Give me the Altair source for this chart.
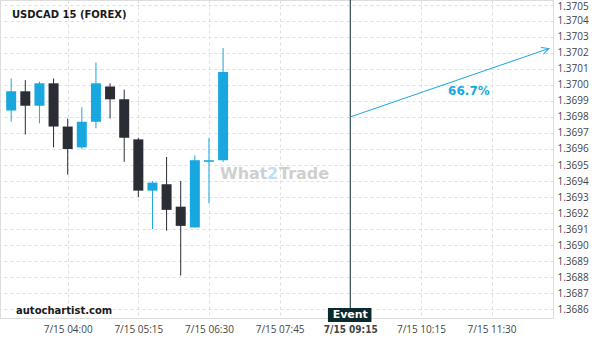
import altair as alt
import pandas as pd

# ---- data ----
idx = list(range(16))
opens  = [1.36984, 1.36996, 1.36987, 1.37001, 1.36974, 1.36961, 1.36977, 1.36999,
          1.36991, 1.36966, 1.36934, 1.36938, 1.36924, 1.36911, 1.36952, 1.36953]
closes = [1.36996, 1.36987, 1.37001, 1.36974, 1.36960, 1.36977, 1.37001, 1.36991,
          1.36967, 1.36934, 1.36939, 1.36922, 1.36912, 1.36953, 1.36953, 1.37008]
highs  = [1.37004, 1.37003, 1.37002, 1.37004, 1.36979, 1.36986, 1.37014, 1.37001,
          1.36997, 1.36967, 1.36940, 1.36955, 1.36940, 1.36956, 1.36967, 1.37023]
lows   = [1.36977, 1.36969, 1.36976, 1.36961, 1.36944, 1.36960, 1.36973, 1.36979,
          1.36952, 1.36930, 1.36910, 1.36909, 1.36881, 1.36911, 1.36926, 1.36952]

tick_pos = [4, 9, 14, 19, 24, 29, 34]
tick_lab = ["7/15 04:00", "7/15 05:15", "7/15 06:30", "7/15 07:45",
            "7/15 09:15", "7/15 10:15", "7/15 11:30"]
y_ticks = [round(1.3686 + 0.0001 * k, 4) for k in range(20)]

event_idx = [24]
arrow_x = [24, 38.06]
arrow_y = [1.36980, 1.370227]
pct_label = ["66.7%"]
pct_x = [32.4]
pct_y = [1.369963]

BLUE = "#19a7e0"
DARK = "#2b2d35"
GRID = "#dedede"
EVENT = "#0b2a30"

df = pd.DataFrame({"i": idx, "o": opens, "c": closes, "h": highs, "l": lows})
df["dir"] = ["up" if c >= o else "down" for o, c in zip(opens, closes)]

label_expr = "{" + ",".join(f"'{p}':'{l}'" for p, l in zip(tick_pos, tick_lab)) + "}[datum.value]"

xscale = alt.Scale(domain=[-0.791, 38.35], nice=False, zero=False, padding=0)
yscale = alt.Scale(domain=[1.368545, 1.370530], nice=False, zero=False, padding=0)

xaxis = alt.Axis(values=tick_pos, labelExpr=label_expr, ticks=False, domain=False,
                 grid=True, gridDash=[3, 3], gridColor=GRID, labelPadding=6,
                 labelFontSize=10, labelColor="#444",
                 labelOverlap=False, tickCount=20,
                 labelFont=alt.ExprRef("datum.value == 24 ? 'Liberation Sans Narrow, DejaVu Sans Condensed' : 'Open Sans'"),
                 labelFontWeight=alt.ExprRef("datum.value == 24 ? 'bold' : 'normal'"),
                 title=None)
yaxis = alt.Axis(values=y_ticks, format=".4f", orient="right", ticks=False, domain=False,
                 grid=True, gridDash=[3, 3], gridColor=GRID, labelPadding=4,
                 labelOverlap=False, labelBound=False, tickCount=40,
                 labelOffset=alt.ExprRef("datum.value > 1.37045 ? 2 : 0"),
                 labelFont="Open Sans", labelFontSize=10, labelColor="#444", title=None)

color = alt.Color("dir:N", scale=alt.Scale(domain=["up", "down"], range=[BLUE, DARK]), legend=None)

base = alt.Chart(df)
wicks = base.mark_rule(strokeWidth=1).encode(
    x=alt.X("i:Q", scale=xscale, axis=xaxis),
    y=alt.Y("l:Q", scale=yscale, axis=yaxis),
    y2="h:Q",
    color=color,
)
bodies = base.mark_bar(size=10).encode(
    x=alt.X("i:Q", scale=xscale, title=None),
    y=alt.Y("o:Q", scale=yscale, title=None),
    y2="c:Q",
    color=color,
)

ev = pd.DataFrame({"e": event_idx, "e0": [22.42], "e1": [25.50], "t": ["Event"]})
event_line = alt.Chart(ev).mark_rule(color=EVENT, strokeWidth=1).encode(
    x=alt.X("e:Q", scale=xscale, title=None), y=alt.value(0), y2=alt.value(308))
event_box = alt.Chart(ev).mark_rect(color=EVENT).encode(
    x=alt.X("e0:Q", scale=xscale, title=None), x2="e1:Q", y=alt.value(308), y2=alt.value(322))
event_txt = alt.Chart(ev).mark_text(color="white", font="DejaVu Sans", fontWeight="bold",
                                   fontSize=11, baseline="middle").encode(
    x=alt.X("e:Q", scale=xscale, title=None), y=alt.value(315), text="t:N")

adf = pd.DataFrame({"x": arrow_x, "y": arrow_y})
arrow_line = alt.Chart(adf).mark_line(color=BLUE, strokeWidth=1).encode(
    x=alt.X("x:Q", scale=xscale, title=None), y=alt.Y("y:Q", scale=yscale, title=None))
head = alt.Chart(adf.iloc[[1]]).mark_point(
    shape="M -0.5 1 L 0 0 L 0.5 1", size=205, angle=71, filled=False,
    color=BLUE, strokeWidth=1, opacity=1).encode(
    x=alt.X("x:Q", scale=xscale, title=None), y=alt.Y("y:Q", scale=yscale, title=None))

pdf = pd.DataFrame({"x": pct_x, "y": pct_y, "t": pct_label})
pct = alt.Chart(pdf).mark_text(color=BLUE, font="DejaVu Sans", fontWeight="bold",
                               fontSize=12, baseline="middle").encode(
    x=alt.X("x:Q", scale=xscale, title=None), y=alt.Y("y:Q", scale=yscale, title=None), text="t:N")

title = alt.Chart(pd.DataFrame({"t": ["USDCAD 15 (FOREX)"]})).mark_text(
    font="DejaVu Sans", fontWeight="bold", fontSize=10, align="left", baseline="middle",
    color="#1a1a1a").encode(x=alt.value(12), y=alt.value(15), text="t:N")
brand = alt.Chart(pd.DataFrame({"t": ["autochartist.com"]})).mark_text(
    font="DejaVu Sans", fontWeight="bold", fontSize=10, align="left", baseline="middle",
    color="#1a1a1a").encode(x=alt.value(16), y=alt.value(311), text="t:N")

wm1 = alt.Chart(pd.DataFrame({"t": ["What"]})).mark_text(
    font="DejaVu Sans", fontWeight="bold", fontSize=16, align="left", baseline="alphabetic",
    color="#cfcfcf").encode(x=alt.value(220), y=alt.value(179), text="t:N")
wm2 = alt.Chart(pd.DataFrame({"t": ["2"]})).mark_text(
    font="DejaVu Sans", fontWeight="bold", fontSize=16, align="left", baseline="alphabetic",
    color="#c0e0f2").encode(x=alt.value(267), y=alt.value(179), text="t:N")
wm3 = alt.Chart(pd.DataFrame({"t": ["Trade"]})).mark_text(
    font="DejaVu Sans", fontWeight="bold", fontSize=16, align="left", baseline="alphabetic",
    color="#cfcfcf").encode(x=alt.value(279), y=alt.value(179), text="t:N")

chart = alt.layer(
    wicks, bodies, wm1, wm2, wm3, event_line, event_box, event_txt,
    arrow_line, head, pct, title, brand
).properties(
    width=553, height=318,
    autosize=alt.AutoSizeParams(type="none"),
    padding={"left": 0, "top": 0, "right": 47, "bottom": 22},
).configure_view(stroke=None).configure(background="white")

chart.save("out.html", embed_options={"renderer": "svg", "actions": False})
